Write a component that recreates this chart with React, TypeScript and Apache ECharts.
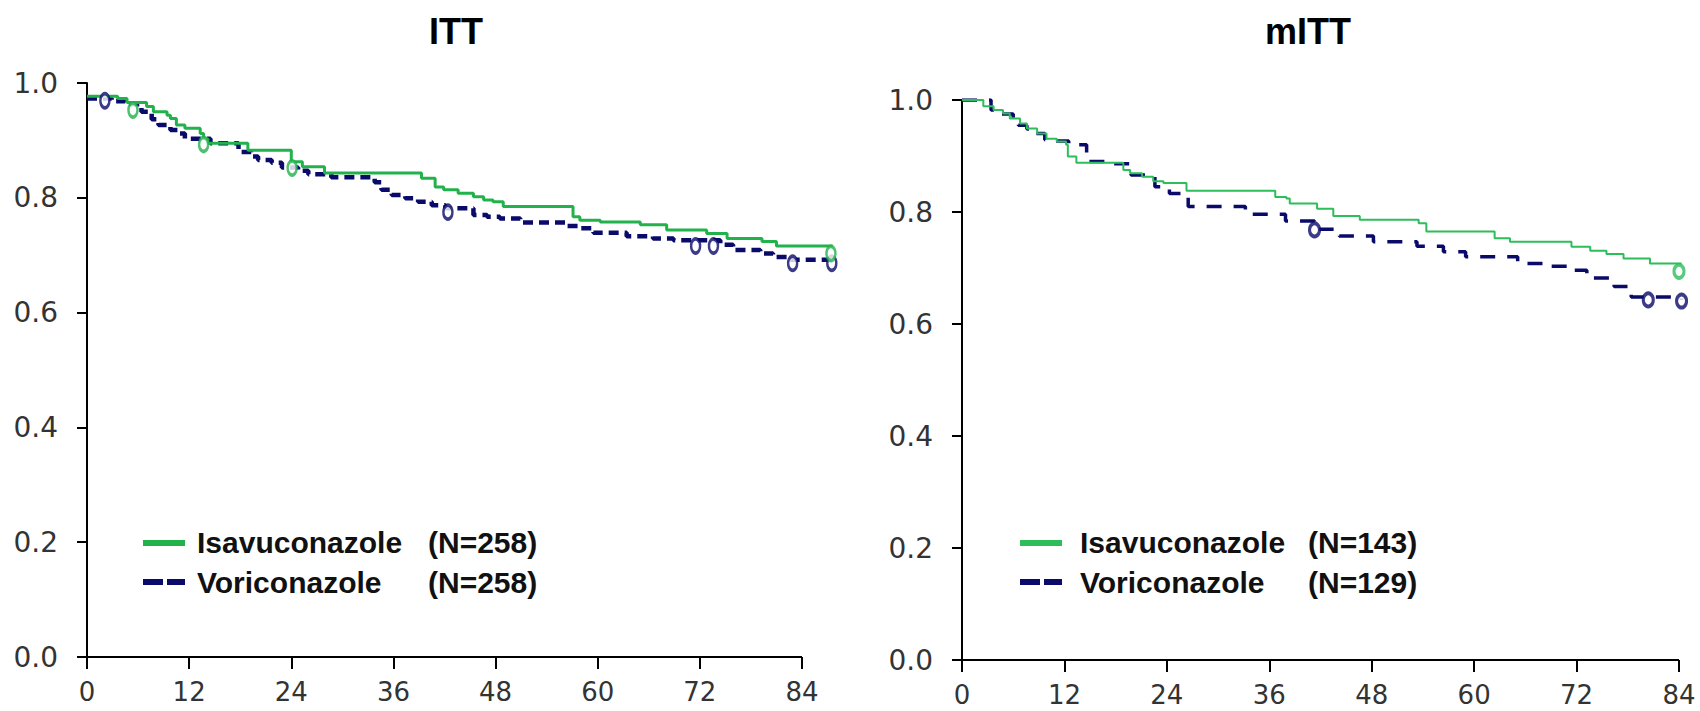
import React, { useEffect, useRef } from "react";
import * as echarts from "echarts";

// ---------- data ----------
const xTicks = [0, 12, 24, 36, 48, 60, 72, 84];
const yTicks = [0, 0.2, 0.4, 0.6, 0.8, 1.0];
const titles = ["ITT", "mITT"];
const seriesNames = ["Isavuconazole", "Voriconazole"];
const ittCounts = ["(N=258)", "(N=258)"];
const mittCounts = ["(N=143)", "(N=129)"];

// ITT – Isavuconazole
const ittIsaT = [0, 3.6, 4.7, 7.0, 7.8, 9.4, 9.8, 10.5, 11.5, 13.3, 13.7, 14.2, 18.9, 24.0, 25.3, 27.9, 39.3, 40.9, 41.9, 43.6, 45.4, 46.6, 47.7, 48.9, 57.1, 57.9, 60.3, 65.0, 68.1, 72.8, 75.2, 79.3, 81.0, 87.6];
const ittIsaS = [0.977, 0.973, 0.966, 0.959, 0.95, 0.944, 0.938, 0.927, 0.921, 0.912, 0.903, 0.895, 0.883, 0.863, 0.854, 0.843, 0.834, 0.819, 0.814, 0.808, 0.802, 0.796, 0.793, 0.785, 0.767, 0.761, 0.758, 0.753, 0.744, 0.738, 0.729, 0.724, 0.716, 0.716];
const ittIsaCensT = [5.4, 13.7, 24.1, 87.4];
const ittIsaCensS = [0.953, 0.893, 0.852, 0.703];

// ITT – Voriconazole
const ittVorT = [0, 2.9, 4.5, 6.4, 7.6, 8.4, 9.8, 10.9, 11.5, 14.5, 17.8, 19.3, 20.1, 21.7, 22.9, 24.8, 26.0, 28.7, 33.8, 34.6, 35.8, 37.4, 38.9, 40.5, 42.1, 45.4, 47.0, 48.5, 50.9, 56.2, 57.9, 59.5, 63.4, 66.5, 68.9, 74.4, 75.9, 79.1, 80.6, 82.2, 87.5];
const ittVorS = [0.973, 0.968, 0.963, 0.95, 0.937, 0.927, 0.918, 0.912, 0.903, 0.895, 0.88, 0.872, 0.866, 0.861, 0.853, 0.847, 0.841, 0.836, 0.827, 0.814, 0.805, 0.799, 0.793, 0.787, 0.782, 0.77, 0.767, 0.764, 0.757, 0.751, 0.747, 0.739, 0.733, 0.729, 0.726, 0.718, 0.709, 0.703, 0.697, 0.692, 0.69];
const ittVorCensT = [2.1, 42.4, 71.5, 73.6, 82.9, 87.5];
const ittVorCensS = [0.969, 0.775, 0.716, 0.716, 0.686, 0.686];

// mITT – Isavuconazole
const mittIsaT = [0, 2.5, 3.7, 4.8, 5.6, 6.8, 7.6, 8.8, 9.9, 11.1, 12.2, 12.4, 13.4, 18.9, 19.7, 21.1, 22.4, 23.6, 26.3, 36.7, 38.0, 38.4, 41.6, 43.5, 46.6, 53.5, 54.4, 62.4, 64.2, 71.4, 73.6, 75.5, 77.5, 80.6, 84.3];
const mittIsaS = [1.0, 0.989, 0.982, 0.976, 0.967, 0.958, 0.949, 0.94, 0.931, 0.926, 0.92, 0.899, 0.888, 0.875, 0.869, 0.863, 0.855, 0.852, 0.838, 0.827, 0.824, 0.815, 0.806, 0.793, 0.786, 0.78, 0.765, 0.753, 0.747, 0.738, 0.731, 0.725, 0.717, 0.708, 0.708];
const mittIsaCensT = [84.0];
const mittIsaCensS = [0.694];

// mITT – Voriconazole
const mittVorT = [0, 3.4, 4.5, 6.0, 6.6, 7.6, 8.4, 9.7, 10.5, 12.5, 14.6, 17.6, 19.8, 22.6, 24.3, 26.5, 33.2, 37.9, 41.3, 44.2, 48.2, 53.3, 56.4, 59.0, 65.1, 68.3, 71.4, 73.2, 76.4, 78.4, 84.3];
const mittVorS = [1.0, 0.982, 0.975, 0.961, 0.955, 0.948, 0.94, 0.929, 0.927, 0.92, 0.89, 0.886, 0.866, 0.845, 0.833, 0.81, 0.796, 0.784, 0.769, 0.757, 0.747, 0.739, 0.729, 0.72, 0.708, 0.703, 0.696, 0.682, 0.667, 0.648, 0.643];
const mittVorCensT = [41.3, 80.4, 84.3];
const mittVorCensS = [0.768, 0.643, 0.641];

// axis extents (ITT follow-up drawn slightly past the last labelled tick)
const ittXMax = 88;
const mittXMax = 84.5;
const xAxisEnd = 84;

// ---------- helpers ----------
const zip = (t: number[], s: number[]) => t.map((v, i) => [v, s[i]]);

const GREEN_L = "#22b24c";
const GREEN_R = "#2dbd5a";
const NAVY = "#0a0a6a";

function axisPair(gridIndex: number, xMax: number) {
  const x = {
    type: "value",
    gridIndex,
    min: 0,
    max: xMax,
    interval: 12,
    axisLine: { show: false },
    axisTick: { show: true, length: 12, customValues: xTicks, lineStyle: { color: "#000", width: 2 } },
    splitLine: { show: false },
    axisLabel: {
      color: "#333",
      fontFamily: "DejaVu Sans",
      fontSize: 26,
      margin: 22,
      customValues: xTicks,
      formatter: (v: number) => (xTicks.includes(v) ? String(v) : ""),
    },
  };
  const y = {
    type: "value",
    gridIndex,
    min: 0,
    max: 1,
    interval: 0.2,
    axisLine: { show: true, lineStyle: { color: "#000", width: 2 } },
    axisTick: { show: true, length: 10, lineStyle: { color: "#000", width: 2 } },
    splitLine: { show: false },
    axisLabel: {
      color: "#333",
      fontFamily: "DejaVu Sans",
      fontSize: 28,
      margin: 29,
      formatter: (v: number) => (yTicks.some((t) => Math.abs(t - v) < 1e-6) ? v.toFixed(1) : ""),
    },
  };
  return { x, y };
}

function xAxisLineSeries(idx: number) {
  return {
    type: "line", xAxisIndex: idx, yAxisIndex: idx, symbol: "none", silent: true, z: 1,
    data: [[0, 0], [xAxisEnd, 0]], lineStyle: { color: "#000", width: 2 },
  };
}

function legendBlock(lineX: number, textX: number, countX: number, green: string, counts: string[]) {
  const font = { fontFamily: "Liberation Sans", fontWeight: "bold", fontSize: 30 };
  const row1 = 542;
  const row2 = 582;
  const al = { align: "left", verticalAlign: "middle", textAlign: "left", textVerticalAlign: "middle" };
  return [
    { type: "line", shape: { x1: lineX, y1: row1 + 1, x2: lineX + 42, y2: row1 + 1 }, style: { stroke: green, lineWidth: 6 } },
    { type: "rect", shape: { x: lineX, y: row2 - 3, width: 20, height: 6 }, style: { fill: NAVY } },
    { type: "rect", shape: { x: lineX + 24, y: row2 - 3, width: 18, height: 6 }, style: { fill: NAVY } },
    { type: "text", x: textX, y: row1, style: { text: seriesNames[0], fill: "#111", ...font, ...al } },
    { type: "text", x: countX, y: row1, style: { text: counts[0], fill: "#111", ...font, ...al } },
    { type: "text", x: textX, y: row2, style: { text: seriesNames[1], fill: "#111", ...font, ...al } },
    { type: "text", x: countX, y: row2, style: { text: counts[1], fill: "#111", ...font, ...al } },
  ];
}

export default function App() {
  const ref = useRef<HTMLDivElement>(null);

  useEffect(() => {
    if (!ref.current) return;
    const chart = echarts.init(ref.current, undefined, { renderer: "svg" });
    const a0 = axisPair(0, ittXMax);
    const a1 = axisPair(1, mittXMax);

    const titleStyle = { fill: "#000", fontFamily: "Liberation Sans", fontWeight: "bold", fontSize: 36, align: "center", verticalAlign: "middle", textAlign: "center", textVerticalAlign: "middle" };

    // pixel width per month chosen so that month 84 lands at the end of each drawn axis
    const leftW = (715 / 84) * ittXMax;
    const rightW = (717 / 84) * mittXMax;

    const option: any = {
      animation: false,
      backgroundColor: "#fff",
      grid: [
        { left: 87, top: 83, width: leftW, height: 574 },
        { left: 962, top: 100, width: rightW, height: 560 },
      ],
      xAxis: [a0.x, a1.x],
      yAxis: [a0.y, a1.y],
      series: [
        xAxisLineSeries(0),
        xAxisLineSeries(1),
        {
          type: "line", name: seriesNames[1], xAxisIndex: 0, yAxisIndex: 0, step: "end", symbol: "none",
          data: zip(ittVorT, ittVorS), lineStyle: { color: NAVY, width: 4.5, type: [10, 6] }, z: 2,
        },
        {
          type: "line", name: seriesNames[0], xAxisIndex: 0, yAxisIndex: 0, step: "end", symbol: "none",
          data: zip(ittIsaT, ittIsaS), lineStyle: { color: GREEN_L, width: 3 }, z: 3,
        },
        {
          type: "scatter", xAxisIndex: 0, yAxisIndex: 0, clip: false, symbol: "circle", symbolSize: [9, 14],
          data: zip(ittVorCensT, ittVorCensS), itemStyle: { color: "#fff", borderColor: NAVY, borderWidth: 3 }, z: 4,
        },
        {
          type: "scatter", xAxisIndex: 0, yAxisIndex: 0, clip: false, symbol: "circle", symbolSize: [9, 14],
          data: zip(ittIsaCensT, ittIsaCensS), itemStyle: { color: "#fff", borderColor: GREEN_L, borderWidth: 3 }, z: 4,
        },
        {
          type: "line", name: seriesNames[1], xAxisIndex: 1, yAxisIndex: 1, step: "end", symbol: "none",
          data: zip(mittVorT, mittVorS), lineStyle: { color: NAVY, width: 3.5, type: [15, 12] }, z: 2,
        },
        {
          type: "line", name: seriesNames[0], xAxisIndex: 1, yAxisIndex: 1, step: "end", symbol: "none",
          data: zip(mittIsaT, mittIsaS), lineStyle: { color: GREEN_R, width: 2 }, z: 3,
        },
        {
          type: "scatter", xAxisIndex: 1, yAxisIndex: 1, clip: false, symbol: "circle", symbolSize: [10, 13],
          data: zip(mittVorCensT, mittVorCensS), itemStyle: { color: "#fff", borderColor: NAVY, borderWidth: 3.5 }, z: 4,
        },
        {
          type: "scatter", xAxisIndex: 1, yAxisIndex: 1, clip: false, symbol: "circle", symbolSize: [10, 13],
          data: zip(mittIsaCensT, mittIsaCensS), itemStyle: { color: "#fff", borderColor: GREEN_R, borderWidth: 3.5 }, z: 4,
        },
      ],
      graphic: [
        { type: "text", x: 456, y: 31, style: { text: titles[0], ...titleStyle } },
        { type: "text", x: 1308, y: 31, style: { text: titles[1], ...titleStyle } },
        ...legendBlock(143, 197, 428, GREEN_L, ittCounts),
        ...legendBlock(1020, 1080, 1308, GREEN_R, mittCounts),
      ],
    };
    chart.setOption(option);
    return () => chart.dispose();
  }, []);

  return (
    <div
      ref={ref}
      style={{ position: "fixed", left: 0, top: 0, width: 1700, height: 711, background: "#fff" }}
    />
  );
}
